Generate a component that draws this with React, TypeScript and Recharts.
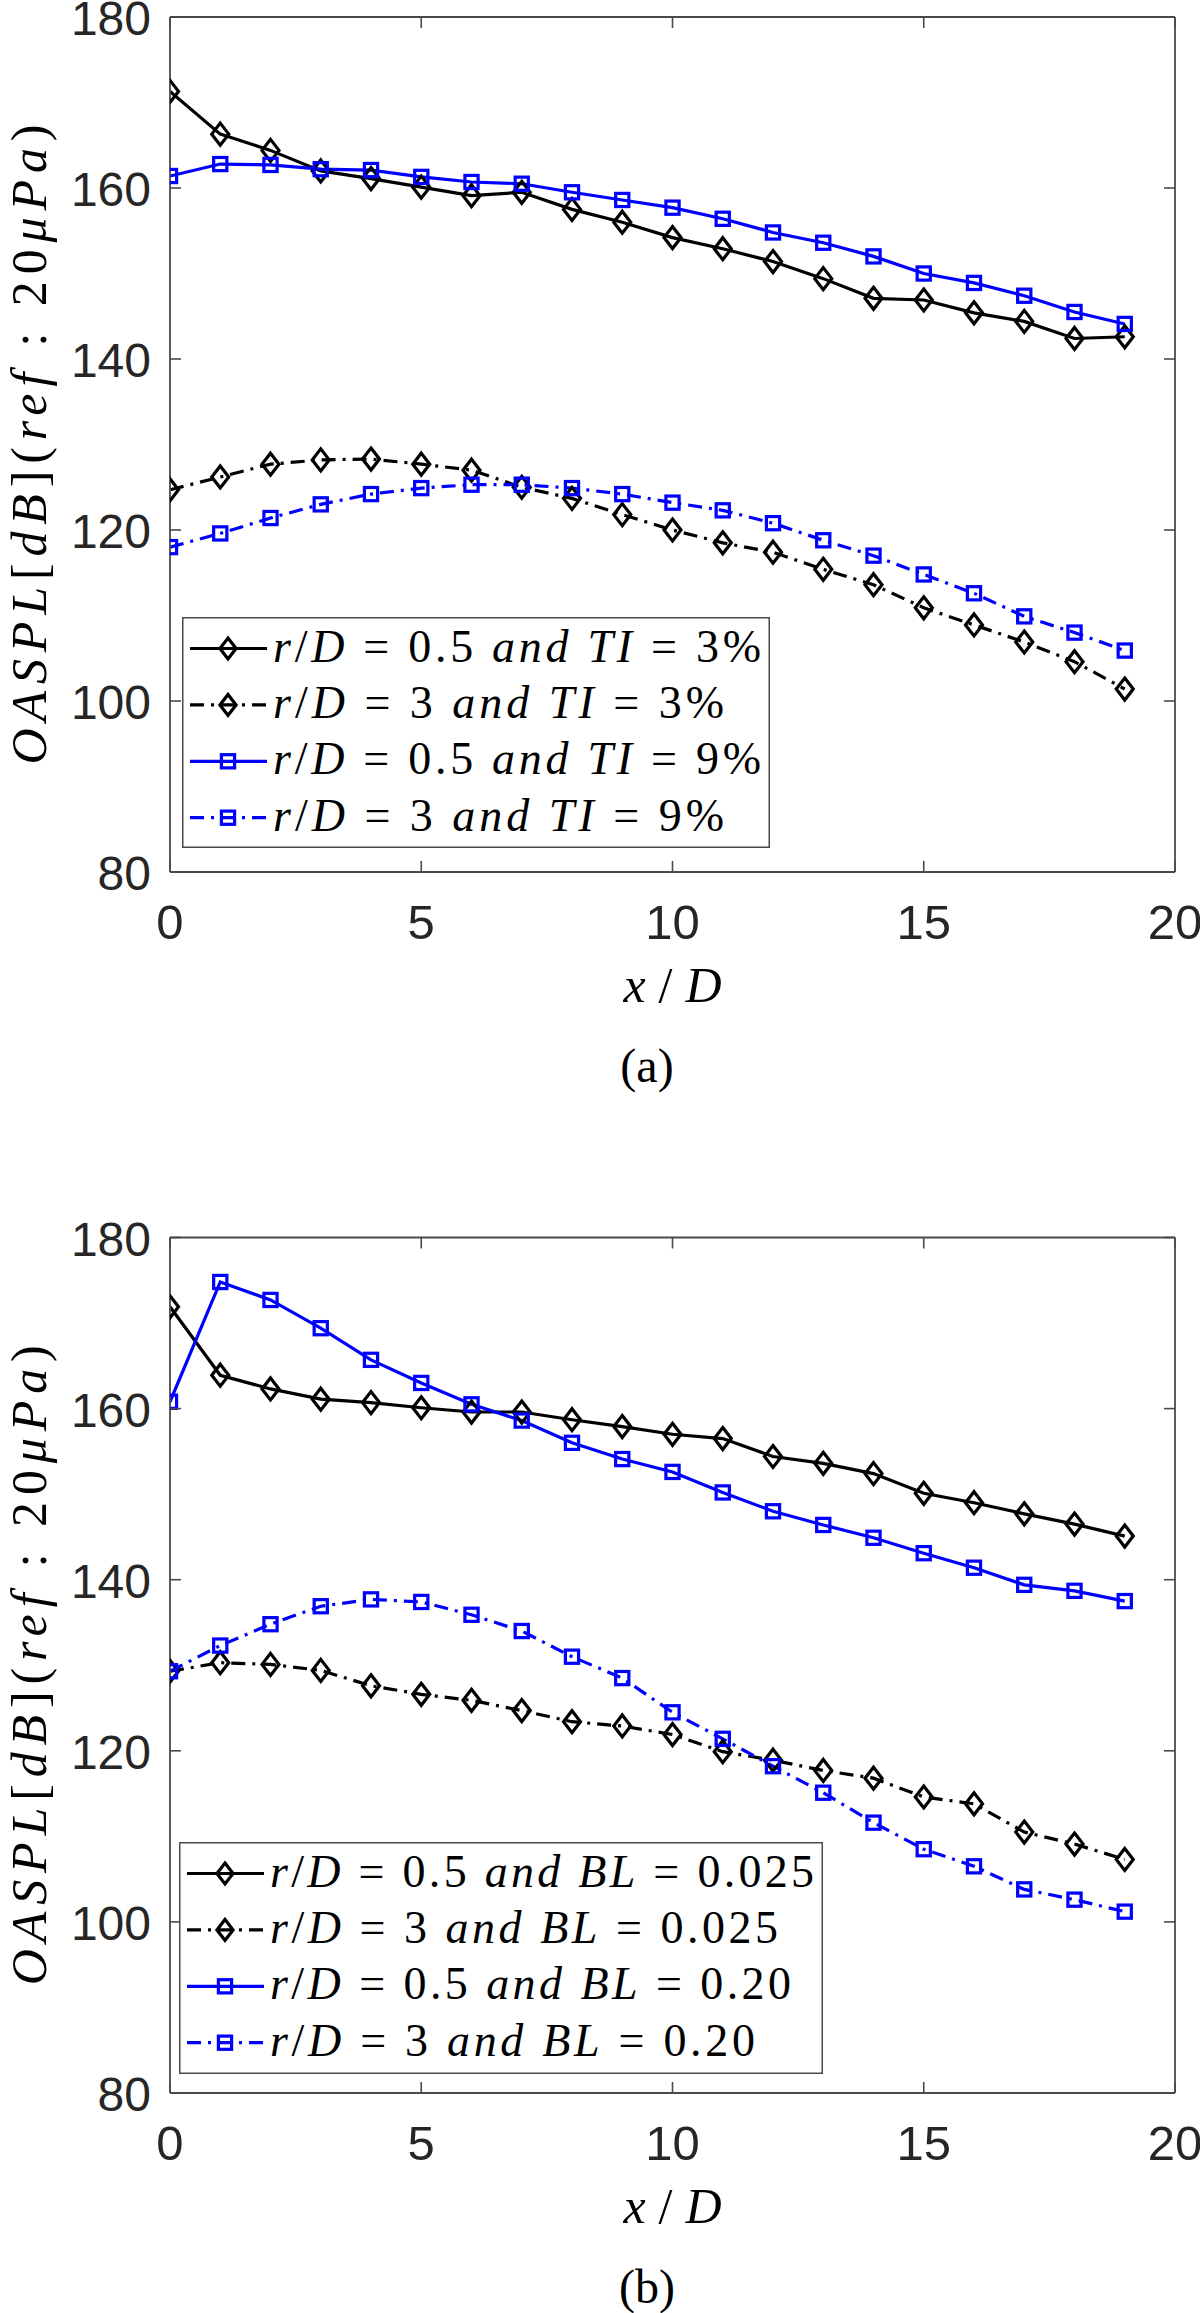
import React from 'react';
import { LineChart, Line, XAxis, YAxis, Legend } from 'recharts';

// ---------- data ----------
const xD = [0, 1, 2, 3, 4, 5, 6, 7, 8, 9, 10, 11, 12, 13, 14, 15, 16, 17, 18, 19];
const xTicks = [0, 5, 10, 15, 20];
const yTicks = [80, 100, 120, 140, 160, 180];

// Panel (a): turbulence intensity
const a_r05_TI3 = [171.3, 166.3, 164.4, 162.0, 161.1, 160.1, 159.1, 159.5, 157.5, 156.0, 154.2, 152.9, 151.4, 149.4, 147.1, 146.9, 145.4, 144.4, 142.4, 142.6];
const a_r3_TI3 = [124.7, 126.2, 127.7, 128.2, 128.3, 127.7, 127.0, 125.0, 123.7, 121.8, 120.0, 118.5, 117.4, 115.4, 113.6, 110.9, 108.9, 106.9, 104.6, 101.4];
const a_r05_TI9 = [161.4, 162.8, 162.7, 162.2, 162.1, 161.3, 160.7, 160.5, 159.5, 158.6, 157.7, 156.4, 154.8, 153.6, 152.0, 150.0, 148.9, 147.4, 145.5, 144.1];
const a_r3_TI9 = [118.0, 119.6, 121.4, 123.0, 124.2, 124.9, 125.3, 125.3, 124.9, 124.2, 123.2, 122.3, 120.8, 118.8, 117.0, 114.8, 112.6, 109.9, 108.0, 105.9];

// Panel (b): boundary layer thickness
const b_r05_BL025 = [171.9, 163.9, 162.3, 161.1, 160.7, 160.1, 159.6, 159.6, 158.7, 157.9, 157.0, 156.5, 154.4, 153.6, 152.4, 150.1, 149.0, 147.7, 146.5, 145.1];
const b_r3_BL025 = [129.3, 130.3, 130.1, 129.4, 127.6, 126.6, 125.9, 124.7, 123.4, 122.9, 121.9, 119.9, 118.9, 117.7, 116.8, 114.6, 113.8, 110.5, 109.1, 107.3];
const b_r05_BL20 = [160.8, 174.8, 172.7, 169.4, 165.7, 163.0, 160.5, 158.6, 156.0, 154.1, 152.6, 150.2, 148.0, 146.4, 144.9, 143.1, 141.4, 139.4, 138.7, 137.5];
const b_r3_BL20 = [129.3, 132.3, 134.8, 136.9, 137.7, 137.4, 135.9, 134.0, 131.0, 128.5, 124.5, 121.4, 118.2, 115.1, 111.6, 108.5, 106.5, 103.8, 102.6, 101.2];

// legend labels: [text, italic]
type Part = [string, boolean];
const legendA: Part[][] = [
  [['r', true], ['/', false], ['D', true], [' = 0.5 ', false], ['and', true], [' ', false], ['TI', true], [' = 3%', false]],
  [['r', true], ['/', false], ['D', true], [' = 3 ', false], ['and', true], [' ', false], ['TI', true], [' = 3%', false]],
  [['r', true], ['/', false], ['D', true], [' = 0.5 ', false], ['and', true], [' ', false], ['TI', true], [' = 9%', false]],
  [['r', true], ['/', false], ['D', true], [' = 3 ', false], ['and', true], [' ', false], ['TI', true], [' = 9%', false]],
];
const legendB: Part[][] = [
  [['r', true], ['/', false], ['D', true], [' = 0.5 ', false], ['and', true], [' ', false], ['BL', true], [' = 0.025', false]],
  [['r', true], ['/', false], ['D', true], [' = 3 ', false], ['and', true], [' ', false], ['BL', true], [' = 0.025', false]],
  [['r', true], ['/', false], ['D', true], [' = 0.5 ', false], ['and', true], [' ', false], ['BL', true], [' = 0.20', false]],
  [['r', true], ['/', false], ['D', true], [' = 3 ', false], ['and', true], [' ', false], ['BL', true], [' = 0.20', false]],
];
const yLabelParts: Part[] = [['OASPL', true], ['[', false], ['dB', true], ['](', false], ['ref', true], [' : 20', false], ['μPa', true], [')', false]];
const xLabelParts: Part[] = [['x', true], ['/', false], ['D', true]];

// ---------- styles ----------
const BLACK = '#000000';
const BLUE = '#0000ff';
const AXIS = '#4a4a4a';
const TXT = '#262626';
const SANS = '"Liberation Sans", Arial, Helvetica, sans-serif';
const SERIF = '"Liberation Serif", "Times New Roman", serif';
const DASH = '14 7 3 7';
const LW = 3.2;

type Series = { key: string; values: number[]; color: string; dashed: boolean; marker: 'diamond' | 'square' };

const seriesA: Series[] = [
  { key: 'r05TI3', values: a_r05_TI3, color: BLACK, dashed: false, marker: 'diamond' },
  { key: 'r3TI3', values: a_r3_TI3, color: BLACK, dashed: true, marker: 'diamond' },
  { key: 'r05TI9', values: a_r05_TI9, color: BLUE, dashed: false, marker: 'square' },
  { key: 'r3TI9', values: a_r3_TI9, color: BLUE, dashed: true, marker: 'square' },
];
const seriesB: Series[] = [
  { key: 'r05BL025', values: b_r05_BL025, color: BLACK, dashed: false, marker: 'diamond' },
  { key: 'r3BL025', values: b_r3_BL025, color: BLACK, dashed: true, marker: 'diamond' },
  { key: 'r05BL20', values: b_r05_BL20, color: BLUE, dashed: false, marker: 'square' },
  { key: 'r3BL20', values: b_r3_BL20, color: BLUE, dashed: true, marker: 'square' },
];

const buildRows = (series: Series[]) =>
  xD.map((x, i) => {
    const row: Record<string, number> = { x };
    series.forEach((s) => (row[s.key] = s.values[i]));
    return row;
  });

// ---------- marks ----------
const markerShape = (kind: 'diamond' | 'square', cx: number, cy: number, color: string, key?: any, scale = 1) => {
  if (kind === 'diamond') {
    const w = 8.5 * scale, h = 11 * scale;
    return (
      <path key={key} d={`M${cx},${cy - h} L${cx + w},${cy} L${cx},${cy + h} L${cx - w},${cy} Z`} fill="none" stroke={color} strokeWidth={3.2} strokeLinejoin="miter" />
    );
  }
  const s = 6.6 * scale;
  return <rect key={key} x={cx - s} y={cy - s} width={2 * s} height={2 * s} fill="none" stroke={color} strokeWidth={3.2} />;
};

const makeDot = (s: Series) => (props: any) => {
  const { cx, cy, index } = props;
  if (cx == null || cy == null) return <g key={index} />;
  return markerShape(s.marker, cx, cy, s.color, index);
};

const mathText = (parts: Part[]) =>
  parts.map(([t, it], i) => (
    <tspan key={i} fontStyle={it ? 'italic' : 'normal'}>
      {t}
    </tspan>
  ));

// ---------- ticks ----------
const BottomTick = (props: any) => {
  const { x, y, payload } = props;
  return (
    <g>
      <line x1={x} y1={y} x2={x} y2={y - 11} stroke={AXIS} strokeWidth={1.6} />
      <text x={x} y={y + 67} textAnchor="middle" fontFamily={SANS} fontSize={49} fill={TXT}>
        {payload.value}
      </text>
    </g>
  );
};
const TopTick = (props: any) => {
  const { x, y } = props;
  return <line x1={x} y1={y} x2={x} y2={y + 11} stroke={AXIS} strokeWidth={1.6} />;
};
const LeftTick = (props: any) => {
  const { x, y, payload } = props;
  return (
    <g>
      <line x1={x} y1={y} x2={x + 11} y2={y} stroke={AXIS} strokeWidth={1.6} />
      <text x={x - 19} y={y} dy="0.38em" textAnchor="end" fontFamily={SANS} fontSize={48} fill={TXT}>
        {payload.value}
      </text>
    </g>
  );
};
const RightTick = (props: any) => {
  const { x, y } = props;
  return <line x1={x} y1={y} x2={x - 11} y2={y} stroke={AXIS} strokeWidth={1.6} />;
};

// ---------- legend ----------
const LegendBox = ({ series, labels, width, height, textWidths }: { series: Series[]; labels: Part[][]; width: number; height: number; textWidths: number[] }) => (
  <svg width={width} height={height} style={{ display: 'block', overflow: 'visible' }}>
    <rect x={0.75} y={0.75} width={width - 1.5} height={height - 1.5} fill="#ffffff" stroke={AXIS} strokeWidth={1.5} />
    {series.map((s, i) => {
      const cy = 31.5 + 56.4 * i;
      return (
        <g key={s.key}>
          <line x1={8} y1={cy} x2={85} y2={cy} stroke={s.color} strokeWidth={LW} strokeDasharray={s.dashed ? DASH : undefined} />
          {markerShape(s.marker, 46, cy, s.color, undefined, s.marker === 'diamond' ? 0.95 : 1)}
          <text x={91} y={cy + 13} fontFamily={SERIF} fontSize={46} fill="#000" textLength={textWidths[i]} lengthAdjust="spacing" style={{ whiteSpace: 'pre' }}>
            {mathText(labels[i])}
          </text>
        </g>
      );
    })}
  </svg>
);

// ---------- panel ----------
type PanelCfg = {
  height: number;
  plotTop: number;
  plotBottom: number;
  series: Series[];
  labels: Part[][];
  legend: { left: number; top: number; width: number; height: number; textWidths: number[] };
  caption: string;
};

const PLOT_LEFT = 170;
const PLOT_RIGHT = 1175;

const Panel = ({ cfg }: { cfg: PanelCfg }) => {
  const data = buildRows(cfg.series);
  const midX = (PLOT_LEFT + PLOT_RIGHT) / 2;
  const midY = (cfg.plotTop + cfg.plotBottom) / 2;
  return (
    <LineChart
      width={1200}
      height={cfg.height}
      data={data}
      margin={{ top: cfg.plotTop - 10, right: 1200 - PLOT_RIGHT - 10, left: PLOT_LEFT - 70, bottom: cfg.height - cfg.plotBottom - 30 }}
    >
      <XAxis
        xAxisId="b"
        dataKey="x"
        type="number"
        domain={[0, 20]}
        ticks={xTicks}
        interval={0}
        allowDataOverflow
        height={30}
        tickSize={0}
        tickMargin={0}
        tickLine={false}
        axisLine={{ stroke: AXIS, strokeWidth: 1.8 }}
        tick={<BottomTick />}
        label={() => (
          <g>
            <text x={midX} y={cfg.plotBottom + 130} textAnchor="middle" fontFamily={SERIF} fontSize={50} fill="#000" textLength={98} lengthAdjust="spacing" style={{ whiteSpace: 'pre' }}>
              {mathText(xLabelParts)}
            </text>
            <text x={647} y={cfg.plotBottom + 210} textAnchor="middle" fontFamily={SERIF} fontSize={48} fill="#000">
              {cfg.caption}
            </text>
          </g>
        )}
      />
      <XAxis
        xAxisId="t"
        orientation="top"
        dataKey="x"
        type="number"
        domain={[0, 20]}
        ticks={xTicks}
        interval={0}
        allowDataOverflow
        height={10}
        tickSize={0}
        tickMargin={0}
        tickLine={false}
        axisLine={{ stroke: AXIS, strokeWidth: 1.8 }}
        tick={<TopTick />}
      />
      <YAxis
        yAxisId="l"
        type="number"
        domain={[80, 180]}
        ticks={yTicks}
        interval={0}
        allowDataOverflow
        width={70}
        tickSize={0}
        tickMargin={0}
        tickLine={false}
        axisLine={{ stroke: AXIS, strokeWidth: 1.8 }}
        tick={<LeftTick />}
        label={() => (
          <text
            transform={`translate(46, ${midY}) rotate(-90)`}
            textAnchor="middle"
            fontFamily={SERIF}
            fontSize={50}
            fill="#000"
            textLength={640}
            lengthAdjust="spacing"
            style={{ whiteSpace: 'pre' }}
          >
            {mathText(yLabelParts)}
          </text>
        )}
      />
      <YAxis
        yAxisId="r"
        orientation="right"
        type="number"
        domain={[80, 180]}
        ticks={yTicks}
        interval={0}
        allowDataOverflow
        width={10}
        tickSize={0}
        tickMargin={0}
        tickLine={false}
        axisLine={{ stroke: AXIS, strokeWidth: 1.8 }}
        tick={<RightTick />}
      />
      {cfg.series.map((s) => (
        <Line
          key={s.key}
          xAxisId="b"
          yAxisId="l"
          type="linear"
          dataKey={s.key}
          stroke={s.color}
          strokeWidth={LW}
          strokeDasharray={s.dashed ? DASH : undefined}
          dot={makeDot(s)}
          activeDot={false}
          isAnimationActive={false}
          legendType="none"
        />
      ))}
      <Legend
        layout="vertical"
        align="center"
        verticalAlign="middle"
        wrapperStyle={{ left: cfg.legend.left, top: cfg.legend.top, width: cfg.legend.width, height: cfg.legend.height, margin: 0, padding: 0 }}
        content={() => (
          <LegendBox series={cfg.series} labels={cfg.labels} width={cfg.legend.width} height={cfg.legend.height} textWidths={cfg.legend.textWidths} />
        )}
      />
    </LineChart>
  );
};

const panelA: PanelCfg = {
  height: 1110,
  plotTop: 17,
  plotBottom: 872,
  series: seriesA,
  labels: legendA,
  legend: { left: 182, top: 617, width: 588, height: 231, textWidths: [488, 451, 488, 451] },
  caption: '(a)',
};

const panelB: PanelCfg = {
  height: 1203,
  plotTop: 127.5,
  plotBottom: 983,
  series: seriesB,
  labels: legendB,
  legend: { left: 179, top: 732, width: 644, height: 232, textWidths: [544, 508, 521, 485] },
  caption: '(b)',
};

export default function App() {
  return (
    <div style={{ position: 'absolute', left: 0, top: 0, width: 1200, height: 2313, background: '#ffffff', overflow: 'hidden' }}>
      <div style={{ position: 'absolute', left: 0, top: 0 }}>
        <Panel cfg={panelA} />
      </div>
      <div style={{ position: 'absolute', left: 0, top: 1110 }}>
        <Panel cfg={panelB} />
      </div>
    </div>
  );
}
